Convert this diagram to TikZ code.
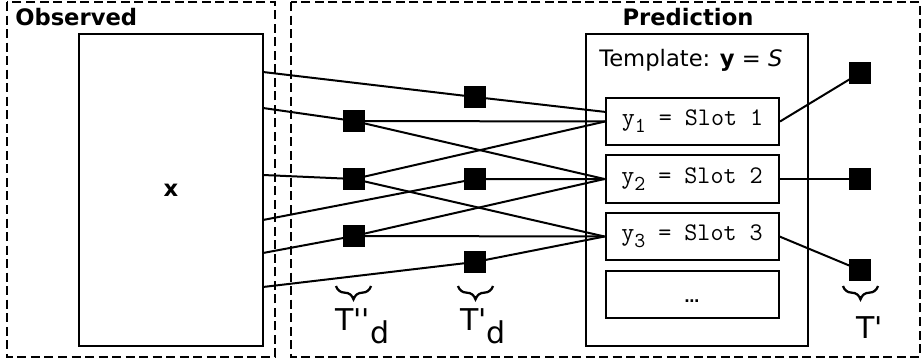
\documentclass[tikz,border=0pt]{standalone}
\usepackage{fontspec}
\setmainfont{DejaVu Sans}
\usetikzlibrary{decorations.pathreplacing}
\newcommand{\mainsz}{\fontsize{17}{20}\selectfont}
\newcommand{\labsz}{\fontsize{22.5}{26}\selectfont}
\newcommand{\slotsz}{\fontsize{19}{22}\selectfont\ttfamily}
\newcommand{\slotsub}[1]{\raisebox{-0.28em}{\fontsize{16}{18}\selectfont #1}}
\begin{document}
\begin{tikzpicture}[x=0.75pt,y=-0.75pt,
  dbox/.style={draw, dash pattern=on 6.75pt off 3.4pt, line width=1.2pt},
  box/.style={draw, line width=1.5pt, inner sep=0pt},
  slotbox/.style={box, minimum width=129.75pt, minimum height=35.25pt, font=\slotsz},
  sq/.style={fill=black, draw=black, inner sep=0pt, minimum size=15.75pt},
  conn/.style={line width=1.5pt},
  brc/.style={decorate, decoration={brace, amplitude=10pt, mirror}, line width=1.7pt},
  lab/.style={anchor=base west, inner sep=0pt, font=\labsz}]
\useasboundingbox (0,0) rectangle (922,360);
% region boxes
\draw[dbox] (7,2) rectangle (275,357);
\draw[dbox] (291,2) rectangle (920,357);
\node[anchor=base west, inner sep=0pt, font=\mainsz\bfseries] (obs) at (15,26) {Observed};
\node[anchor=base, inner sep=0pt, font=\mainsz\bfseries] (pred) at (688,26) {Prediction};
% observed box
\node[box, minimum width=138pt, minimum height=234pt, font=\mainsz\bfseries] (xb) at (171,190) {x};
% template
\node[box, minimum width=166.5pt, minimum height=234pt] (tb) at (697,190) {};
\node[anchor=base west, inner sep=0pt, font=\mainsz] (ttl) at (599,67) {Template: \textbf{y} = \textit{S}};
\node[slotbox] (s1) at (692.5,121.5) {y\slotsub{1} = Slot 1};
\node[slotbox] (s2) at (692,179) {y\slotsub{2} = Slot 2};
\node[slotbox] (s3) at (692,236.5) {y\slotsub{3} = Slot 3};
\node[slotbox] (s4) at (692,294.5) {};
\node[inner sep=0pt, font=\fontsize{11}{11}\selectfont\bfseries] (ell) at (692,301) {…};
% connection points
\coordinate (o1) at (263,72);
\coordinate (o2) at (263,108);
\coordinate (o3) at (263,175);
\coordinate (o4) at (263,220);
\coordinate (o5) at (263,253);
\coordinate (o6) at (263,287);
\coordinate (s1a) at (606,112);
% squares
\node[sq] (d1) at (354,121) {};
\node[sq] (d2) at (354,179) {};
\node[sq] (d3) at (354,236) {};
\node[sq] (p1) at (475,97) {};
\node[sq] (p2) at (475,179) {};
\node[sq] (p3) at (475,262) {};
\node[sq] (q1) at (860,73) {};
\node[sq] (q2) at (860,179) {};
\node[sq] (q3) at (860,270) {};
% connectors
\draw[conn] (o1) -- (p1) -- (s1a);
\draw[conn] (o2) -- (d1);
\draw[conn] (d1) -- (s1.west);
\draw[conn] (d1) -- (s2.west);
\draw[conn] (o3) -- (d2);
\draw[conn] (d2) -- (s1.west);
\draw[conn] (d2) -- (s3.west);
\draw[conn] (o4) -- (p2) -- (s2.west);
\draw[conn] (o5) -- (d3);
\draw[conn] (d3) -- (s2.west);
\draw[conn] (d3) -- (s3.west);
\draw[conn] (o6) -- (p3) -- (s3.west);
\draw[conn] (s1.east) -- (q1);
\draw[conn] (s2.east) -- (q2);
\draw[conn] (s3.east) -- (q3);
% braces
\coordinate (b1l) at (336,286); \coordinate (b1r) at (371,286);
\coordinate (b2l) at (458,286); \coordinate (b2r) at (493,286);
\coordinate (b3l) at (843,286); \coordinate (b3r) at (878,286);
\draw[brc] (b1l) -- (b1r);
\draw[brc] (b2l) -- (b2r);
\draw[brc] (b3l) -- (b3r);
\node[lab] (l1) at (335,330) {T\textquotesingle\textquotesingle\raisebox{-9.75pt}{d}};
\node[lab] (l2) at (460,330) {T\textquotesingle\raisebox{-9.75pt}{d}};
\node[lab] (l3) at (856,338) {T\textquotesingle};
\end{tikzpicture}
\end{document}
